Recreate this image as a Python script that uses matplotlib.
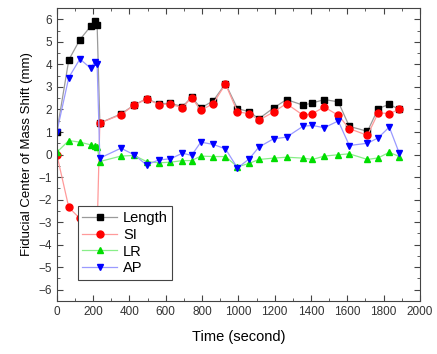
import numpy as np
import matplotlib.pyplot as plt
from matplotlib.ticker import MultipleLocator

plt.rcParams['font.family'] = ['Liberation Sans', 'DejaVu Sans']

# sample times (s)
time = [0, 66, 127, 187, 209, 222, 237, 353, 426, 494, 562, 626, 692, 742,
        793, 861, 929, 995, 1060, 1113, 1194, 1265, 1357, 1408, 1473, 1550,
        1611, 1711, 1770, 1831, 1886]

length = [1.0, 4.2, 5.1, 5.7, 5.95, 5.77, 1.4, 1.8, 2.2, 2.48, 2.25, 2.28,
          2.12, 2.55, 2.07, 2.38, 3.15, 2.04, 1.9, 1.59, 2.07, 2.44, 2.19,
          2.29, 2.44, 2.34, 1.25, 1.03, 2.04, 2.23, 2.0]
si = [0.0, -2.35, -2.84, -3.3, -3.6, -3.4, 1.4, 1.77, 2.19, 2.46, 2.22, 2.23,
      2.08, 2.53, 1.96, 2.26, 3.13, 1.89, 1.82, 1.52, 1.89, 2.26, 1.74,
      1.82, 2.11, 1.74, 1.15, 0.85, 1.85, 1.82, 2.0]
lr = [0.1, 0.62, 0.55, 0.43, 0.4, 0.35, -0.31, -0.07, -0.04, -0.31, -0.37,
      -0.34, -0.27, -0.27, -0.07, -0.09, -0.09, -0.55, -0.39, -0.22, -0.16,
      -0.12, -0.16, -0.22, -0.07, -0.01, 0.03, -0.22, -0.15, 0.1, -0.09]
ap = [1.0, 3.42, 4.24, 3.83, 4.12, 4.02, -0.16, 0.28, -0.01, -0.46, -0.24,
      -0.19, 0.06, -0.04, 0.55, 0.45, 0.25, -0.6, -0.19, 0.33, 0.7, 0.77,
      1.26, 1.29, 1.19, 1.49, 0.4, 0.5, 0.74, 1.22, 0.06]

series = [
    ("Length", length, "s", "black", "#9a9a9a"),
    ("SI", si, "o", "red", "#ff9a9a"),
    ("LR", lr, "^", "#00dd00", "#88ee88"),
    ("AP", ap, "v", "blue", "#9a9aff"),
]

fig = plt.figure(figsize=(4.37, 3.54), dpi=100)
ax = fig.add_axes([0.130, 0.150, 0.831, 0.827])

for name, vals, mk, mc, lc in series:
    ax.plot(time, vals, color=lc, lw=0.9, marker=mk, markersize=5,
            markerfacecolor=mc, markeredgecolor=mc, label=name)

ax.set_xlim(0, 2000)
ax.set_ylim(-6.5, 6.5)
ax.xaxis.set_major_locator(MultipleLocator(200))
ax.xaxis.set_minor_locator(MultipleLocator(100))
ax.yaxis.set_major_locator(MultipleLocator(1))
ax.yaxis.set_minor_locator(MultipleLocator(0.5))
ax.tick_params(which='both', direction='in', top=True, right=True,
               labelsize=8.5, labelcolor='#333333', color='#444444')
ax.tick_params(which='major', length=4)
ax.tick_params(which='minor', length=2)
for s in ax.spines.values():
    s.set_color('#444444')

ax.set_xlabel("Time (second)", fontsize=10.5, labelpad=9)
ax.set_ylabel("Fiducial Center of Mass Shift (mm)", fontsize=9.5)

leg = ax.legend(loc='lower left', bbox_to_anchor=(0.058, 0.072),
                borderaxespad=0, fontsize=10.5,
                fancybox=False, edgecolor='#444444', framealpha=1,
                handlelength=2.4, borderpad=0.3, labelspacing=0.2,
                handletextpad=0.4)
leg.get_frame().set_linewidth(0.8)

fig.savefig("out.png", dpi=100)
